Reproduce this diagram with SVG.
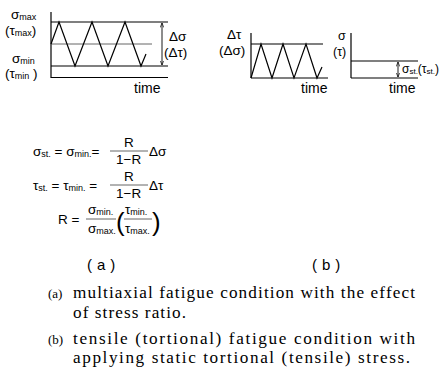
<svg xmlns="http://www.w3.org/2000/svg" width="448" height="367" viewBox="0 0 448 367">
<style>
.ln{stroke:#000;stroke-width:1.2;fill:none}
.thin{stroke:#555;stroke-width:0.9;fill:none}
.s{font-family:"Liberation Sans",Arial,sans-serif;font-size:13.5px;fill:#000}
.sub{font-family:"Liberation Sans",Arial,sans-serif;font-size:9px;fill:#000}
.cap{font-family:"Liberation Serif","Times New Roman",serif;font-size:17.2px;fill:#000}
.capl{font-family:"Liberation Serif","Times New Roman",serif;font-size:13px;fill:#000}
.pl{font-family:"Liberation Sans",Arial,sans-serif;font-size:15px;fill:#000;letter-spacing:5px}
</style>
<defs>
<marker id="ah" viewBox="0 0 10 10" refX="10" refY="5" markerWidth="5" markerHeight="5" orient="auto-start-reverse">
<path d="M0,1 L10,5 L0,9" fill="none" stroke="#000" stroke-width="1.5"/>
</marker>
</defs>
<g id="panel-a">
<line class="ln" x1="51" y1="12" x2="51" y2="78"/>
<line class="ln" x1="51" y1="22" x2="168" y2="22"/>
<line class="thin" x1="51" y1="44" x2="152" y2="44"/>
<line class="ln" x1="51" y1="66" x2="168" y2="66"/>
<line class="ln" x1="51" y1="77.5" x2="168" y2="77.5"/>
<polyline class="ln" points="51,44 59,22 75,66 92,22 108,66 125,22 141,66 146,54"/>
<line class="ln" x1="162" y1="23" x2="162" y2="65" marker-start="url(#ah)" marker-end="url(#ah)" style="stroke-width:0.9"/>
<text class="s" x="11" y="19">σ<tspan class="sub" dy="1">max</tspan></text>
<text class="s" x="5" y="35">(τ<tspan class="sub" dy="1">max</tspan><tspan dy="-1">)</tspan></text>
<text class="s" x="12" y="63">σ<tspan class="sub" dy="1">min</tspan></text>
<text class="s" x="5" y="78">(τ<tspan class="sub" dy="1">min</tspan><tspan dy="-1"> )</tspan></text>
<text class="s" x="169" y="41">Δσ</text>
<text class="s" x="164" y="57">(Δτ)</text>
<text class="s" x="134" y="93" style="font-size:14px">time</text>
</g>
<g id="panel-b1">
<line class="ln" x1="251" y1="33" x2="251" y2="78"/>
<line class="ln" x1="251" y1="44" x2="323" y2="44"/>
<line class="ln" x1="251" y1="78" x2="328" y2="78"/>
<polyline class="ln" points="251,78 261,44 272,78 283,44 294,78 306,44 317,78 322,67"/>
<text class="s" x="227" y="39">Δτ</text>
<text class="s" x="219" y="55">(Δσ)</text>
<text class="s" x="301" y="93" style="font-size:14px">time</text>
</g>
<g id="panel-b2">
<line class="ln" x1="351" y1="33" x2="351" y2="78"/>
<line class="ln" x1="351" y1="61" x2="418" y2="61"/>
<line class="ln" x1="351" y1="78" x2="418" y2="78"/>
<line class="ln" x1="398" y1="62" x2="398" y2="77" marker-start="url(#ah)" marker-end="url(#ah)" style="stroke-width:0.9"/>
<text class="s" x="338" y="40" style="font-size:12.5px">σ</text>
<text class="s" x="333" y="56" style="font-size:12.5px">(τ)</text>
<text class="s" x="402" y="73" style="font-size:12px">σ<tspan class="sub" dy="1" style="font-size:8px">st.</tspan><tspan dy="-1">(τ</tspan><tspan class="sub" dy="1" style="font-size:8px">st.</tspan><tspan dy="-1">)</tspan></text>
<text class="s" x="389" y="93" style="font-size:14px">time</text>
</g>
<g id="formulas">
<text class="s" x="33" y="156">σ<tspan class="sub" dy="1">st.</tspan><tspan dy="-1"> = σ</tspan><tspan class="sub" dy="1">min.</tspan><tspan dy="-1">=</tspan></text>
<line class="thin" x1="110" y1="151" x2="148" y2="151"/>
<text class="s" x="124" y="147">R</text>
<text class="s" x="116" y="164">1−R</text>
<text class="s" x="149" y="156">Δσ</text>
<text class="s" x="33" y="190">τ<tspan class="sub" dy="1">st.</tspan><tspan dy="-1"> = τ</tspan><tspan class="sub" dy="1">min.</tspan><tspan dy="-1"> =</tspan></text>
<line class="thin" x1="110" y1="185" x2="148" y2="185"/>
<text class="s" x="124" y="181">R</text>
<text class="s" x="116" y="198">1−R</text>
<text class="s" x="149" y="190">Δτ</text>
<text class="s" x="58" y="224">R =</text>
<line class="thin" x1="86" y1="219" x2="116" y2="219"/>
<text class="s" x="88" y="214">σ<tspan class="sub" dy="1">min.</tspan></text>
<text class="s" x="88" y="233">σ<tspan class="sub" dy="1">max.</tspan></text>
<text class="s" x="116" y="231" style="font-size:26px">(</text>
<line class="thin" x1="124" y1="219" x2="152" y2="219"/>
<text class="s" x="125" y="214">τ<tspan class="sub" dy="1">min.</tspan></text>
<text class="s" x="125" y="233">τ<tspan class="sub" dy="1">max.</tspan></text>
<text class="s" x="152" y="231" style="font-size:26px">)</text>
</g>
<g id="labels">
<text class="pl" x="87" y="270">(a)</text>
<text class="pl" x="312" y="270">(b)</text>
<text class="capl" x="48" y="298">(a)</text>
<text class="cap" x="73" y="298" textLength="342">multiaxial fatigue condition with the effect</text>
<text class="cap" x="73" y="318" textLength="113">of stress ratio.</text>
<text class="capl" x="48" y="344">(b)</text>
<text class="cap" x="73" y="344" textLength="342">tensile (tortional) fatigue condition with</text>
<text class="cap" x="73" y="363" textLength="337">applying static tortional (tensile) stress.</text>
</g>
</svg>
